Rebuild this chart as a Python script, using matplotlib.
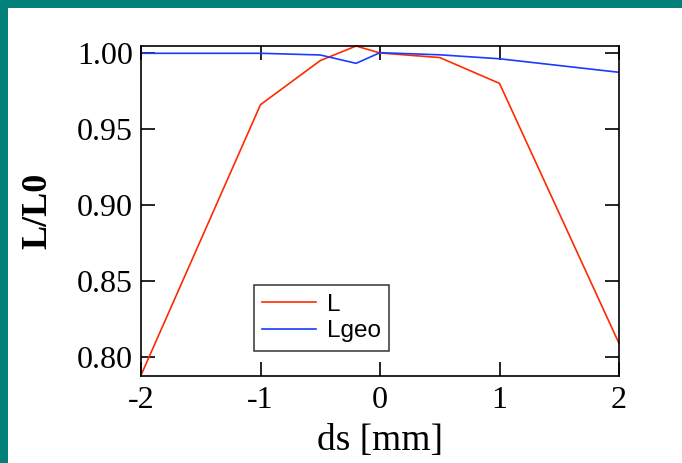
import matplotlib

matplotlib.use("Agg")
import matplotlib.pyplot as plt
from matplotlib.patches import Rectangle

# data
ds = [-2.0, -1.0, -0.5, -0.2, 0.0, 0.5, 1.0, 2.0]
l_ratio = [0.788, 0.966, 0.995, 1.0046, 1.000, 0.997, 0.980, 0.809]
lgeo_ratio = [0.9998, 0.9998, 0.9987, 0.9932, 1.0002, 0.9988, 0.9962, 0.9873]

x_ticks = [-2, -1, 0, 1, 2]
x_tick_labels = ["-2", "-1", "0", "1", "2"]
y_ticks = [0.80, 0.85, 0.90, 0.95, 1.00]
y_tick_labels = ["0.80", "0.85", "0.90", "0.95", "1.00"]

serif = ["Liberation Serif", "DejaVu Serif"]
sans = ["Liberation Sans", "DejaVu Sans"]

fig = plt.figure(figsize=(6.82, 4.63), dpi=100)
fig.patch.set_facecolor("white")

# teal slide frame on the left and top
teal = "#008079"
fig.patches.append(Rectangle((0, 0), 7.5 / 682, 1, transform=fig.transFigure,
                             facecolor=teal, edgecolor="none", zorder=0))
fig.patches.append(Rectangle((0, 1 - 7.5 / 463), 1, 7.5 / 463, transform=fig.transFigure,
                             facecolor=teal, edgecolor="none", zorder=0))

ax = fig.add_axes([141 / 682, 1 - 376 / 463, 478 / 682, 330 / 463])

ax.plot(ds, l_ratio, color="#ff2a00", lw=1.2, label="L", clip_on=False)
ax.plot(ds, lgeo_ratio, color="#1a3cff", lw=1.2, label="Lgeo")

ax.set_xlim(-2, 2)
ax.set_ylim(0.7875, 1.0046)
ax.set_xticks(x_ticks)
ax.set_xticklabels(x_tick_labels)
ax.set_yticks(y_ticks)
ax.set_yticklabels(y_tick_labels)

ax.tick_params(direction="in", length=10, width=1.2, top=True, right=True,
               labelsize=23, pad=6)
ax.tick_params(axis="x", pad=7)
for lab in ax.get_xticklabels() + ax.get_yticklabels():
    lab.set_family(serif)
for sp in ax.spines.values():
    sp.set_linewidth(1.2)

ax.set_xlabel("ds [mm]", family=serif, fontsize=27, labelpad=6)
ax.set_ylabel("L/L0", family=serif, fontsize=26, fontweight="bold", labelpad=16)

leg = ax.legend(loc="lower left", bbox_to_anchor=(0.236, 0.076), borderaxespad=0,
                prop={"family": sans, "size": 17.5},
                frameon=True, fancybox=False, edgecolor="black", handlelength=2.2,
                borderpad=0.35, labelspacing=0.2, handletextpad=0.45)
leg.get_frame().set_linewidth(1.1)

fig.savefig("out.png", dpi=100)
